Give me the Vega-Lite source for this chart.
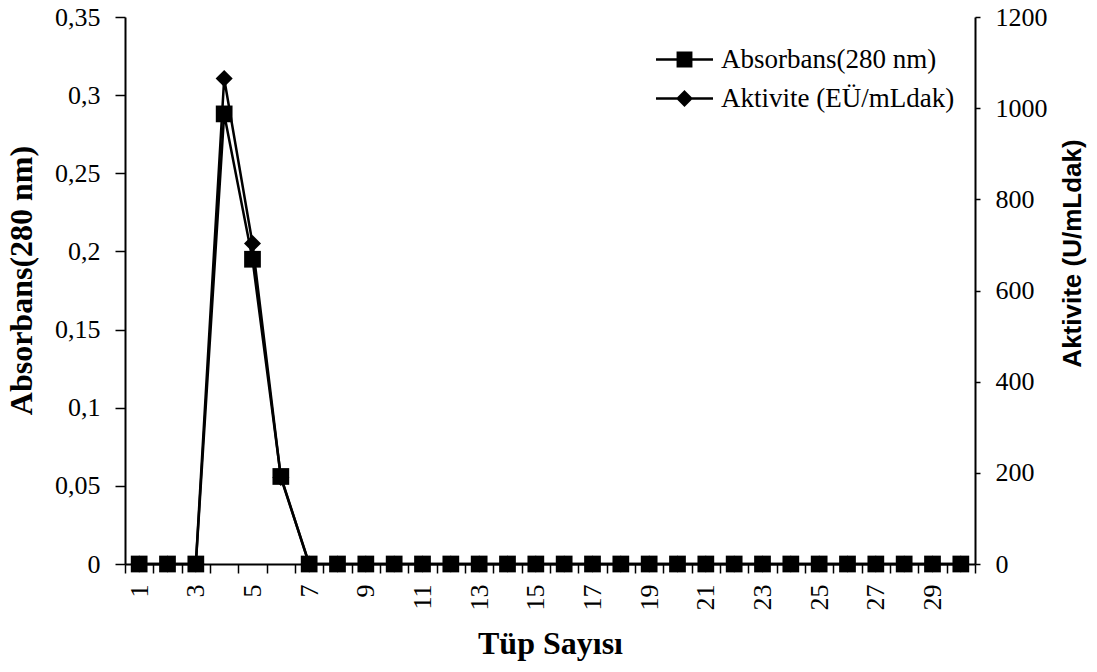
{
  "$schema": "https://vega.github.io/schema/vega-lite/v6.json",
  "width": 850,
  "height": 547,
  "autosize": {"type": "none"},
  "padding": {"left": 125, "top": 17, "right": 122, "bottom": 108},
  "background": "white",
  "data": {
    "values": [
      {"tube": 1, "abs": 0, "akt": 0},
      {"tube": 2, "abs": 0, "akt": 0},
      {"tube": 3, "abs": 0, "akt": 0},
      {"tube": 4, "abs": 0.288, "akt": 1065},
      {"tube": 5, "abs": 0.195, "akt": 703},
      {"tube": 6, "abs": 0.056, "akt": 190},
      {"tube": 7, "abs": 0, "akt": 0},
      {"tube": 8, "abs": 0, "akt": 0},
      {"tube": 9, "abs": 0, "akt": 0},
      {"tube": 10, "abs": 0, "akt": 0},
      {"tube": 11, "abs": 0, "akt": 0},
      {"tube": 12, "abs": 0, "akt": 0},
      {"tube": 13, "abs": 0, "akt": 0},
      {"tube": 14, "abs": 0, "akt": 0},
      {"tube": 15, "abs": 0, "akt": 0},
      {"tube": 16, "abs": 0, "akt": 0},
      {"tube": 17, "abs": 0, "akt": 0},
      {"tube": 18, "abs": 0, "akt": 0},
      {"tube": 19, "abs": 0, "akt": 0},
      {"tube": 20, "abs": 0, "akt": 0},
      {"tube": 21, "abs": 0, "akt": 0},
      {"tube": 22, "abs": 0, "akt": 0},
      {"tube": 23, "abs": 0, "akt": 0},
      {"tube": 24, "abs": 0, "akt": 0},
      {"tube": 25, "abs": 0, "akt": 0},
      {"tube": 26, "abs": 0, "akt": 0},
      {"tube": 27, "abs": 0, "akt": 0},
      {"tube": 28, "abs": 0, "akt": 0},
      {"tube": 29, "abs": 0, "akt": 0},
      {"tube": 30, "abs": 0, "akt": 0}
    ]
  },
  "config": {
    "view": {"stroke": null},
    "axis": {
      "domainColor": "black",
      "domainWidth": 2,
      "tickColor": "black",
      "tickWidth": 1.5,
      "labelColor": "black",
      "titleColor": "black",
      "grid": false,
      "labelFont": "Liberation Serif",
      "labelFontSize": 26,
      "labelFontWeight": "normal"
    }
  },
  "encoding": {
    "x": {
      "field": "tube",
      "type": "ordinal",
      "scale": {"paddingInner": 0, "paddingOuter": 0},
      "axis": {
        "orient": "bottom",
        "title": "Tüp Sayısı",
        "titleFont": "Liberation Serif",
        "titleFontWeight": "bold",
        "titleFontSize": 32,
        "titleY": 79,
        "titleBaseline": "middle",
        "labelAngle": -90,
        "labelAlign": "right",
        "labelBaseline": "middle",
        "labelExpr": "datum.value % 2 == 1 ? datum.label : ''",
        "tickBand": "extent",
        "tickSize": 9,
        "labelPadding": 11
      }
    }
  },
  "layer": [
    {
      "encoding": {
        "y": {
          "field": "akt",
          "type": "quantitative",
          "scale": {"domain": [0, 1200], "nice": false},
          "axis": {
            "orient": "right",
            "values": [0, 200, 400, 600, 800, 1000, 1200],
            "format": "d",
            "title": "Aktivite (U/mLdak)",
            "titleFont": "Liberation Sans",
            "titleFontWeight": "bold",
            "titleFontSize": 26,
            "titleAngle": -90,
            "titleX": 97,
            "titleY": 236,
            "titleBaseline": "middle",
            "titleAlign": "center",
            "tickSize": 5,
            "labelPadding": 15
          }
        }
      },
      "layer": [
        {"mark": {"type": "line", "color": "black", "strokeWidth": 2.5}},
        {"mark": {"type": "point", "shape": "diamond", "filled": true, "color": "black", "opacity": 1, "size": 290}}
      ]
    },
    {
      "encoding": {
        "y": {
          "field": "abs",
          "type": "quantitative",
          "scale": {"domain": [0, 0.35], "nice": false},
          "axis": {
            "orient": "left",
            "values": [0, 0.05, 0.1, 0.15, 0.2, 0.25, 0.3, 0.35],
            "labelExpr": "replace(format(datum.value, '.2~f'), '.', ',')",
            "title": "Absorbans(280 nm)",
            "titleFont": "Liberation Serif",
            "titleFontWeight": "bold",
            "titleFontSize": 32,
            "titleAngle": -90,
            "titleX": -104,
            "titleY": 263,
            "titleBaseline": "middle",
            "titleAlign": "center",
            "tickSize": 10,
            "labelPadding": 15
          }
        }
      },
      "layer": [
        {"mark": {"type": "line", "color": "black", "strokeWidth": 2.5}},
        {"mark": {"type": "point", "shape": "square", "filled": true, "color": "black", "opacity": 1, "size": 280}},
        {
          "mark": {"type": "point", "filled": false, "color": "black", "strokeWidth": 2.5, "opacity": 0},
          "encoding": {
            "shape": {
              "datum": "Absorbans(280 nm)",
              "scale": {
                "domain": ["Absorbans(280 nm)", "Aktivite (EÜ/mLdak)"],
                "range": [
                  "M-2,0L2,0M-0.47,-0.47L0.47,-0.47L0.47,0.47L-0.47,0.47ZM-0.47,-0.35L0.47,-0.35M-0.47,-0.25L0.47,-0.25M-0.47,-0.15L0.47,-0.15M-0.47,-0.05L0.47,-0.05M-0.47,0.05L0.47,0.05M-0.47,0.15L0.47,0.15M-0.47,0.25L0.47,0.25M-0.47,0.35L0.47,0.35",
                  "M-2,0L2,0M0,-0.47L0.47,0L0,0.47L-0.47,0ZM-0.37,-0.1L0.37,-0.1M-0.37,0.1L0.37,0.1M-0.27,-0.2L0.27,-0.2M-0.27,0.2L0.27,0.2M-0.17,-0.3L0.17,-0.3M-0.17,0.3L0.17,0.3M-0.07,-0.4L0.07,-0.4M-0.07,0.4L0.07,0.4"
                ]
              },
              "legend": {
                "title": null,
                "orient": "none",
                "legendX": 544,
                "legendY": 27,
                "symbolSize": 812,
                "symbolOpacity": 1,
                "symbolStrokeColor": "black",
                "symbolStrokeWidth": 2.5,
                "labelFont": "Liberation Serif",
                "labelFontSize": 27,
                "labelColor": "black",
                "labelOffset": 21,
                "rowPadding": 10,
                "labelLimit": 400
              }
            }
          }
        }
      ]
    }
  ],
  "resolve": {"scale": {"y": "independent"}}
}
